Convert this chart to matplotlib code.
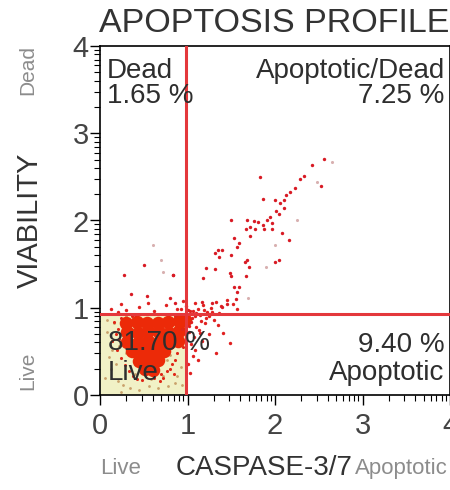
import matplotlib
matplotlib.use('Agg')
import matplotlib.pyplot as plt
import numpy as np

plt.rcParams['font.family'] = ['Liberation Sans', 'DejaVu Sans']

# gate positions
gate_x = 0.98
gate_y = 0.93

# quadrant percentages
pct_dead = '1.65 %'
pct_apdead = '7.25 %'
pct_live = '81.70 %'
pct_apop = '9.40 %'

# diagonal tail of events (apoptotic / dead)
tail_x = [2.56, 2.42, 2.33, 2.28, 1.83, 2.53, 2.23, 2.17, 2.13, 2.10, 1.86, 2.00, 2.06, 2.10,
          2.01, 2.04, 1.94, 1.91, 1.50, 1.68, 1.76, 1.81, 1.86, 1.71, 1.67, 1.77, 1.87, 1.96,
          1.97, 2.08, 1.71, 1.53, 2.16, 1.59, 1.57, 1.35, 1.39, 1.31, 1.50, 1.36, 1.68, 2.05,
          2.00, 1.66, 1.70, 1.21, 1.31, 1.49, 1.50, 1.67, 1.18, 0.83, 1.53, 1.59, 1.57, 1.28,
          1.55, 1.45, 1.39, 1.16, 0.86, 0.50, 0.27, 0.83, 0.35, 0.54, 0.80]
tail_y = [2.70, 2.64, 2.51, 2.47, 2.50, 2.39, 2.37, 2.33, 2.29, 2.24, 2.25, 2.24, 2.20, 2.14,
          2.11, 2.07, 2.04, 2.00, 2.00, 2.00, 1.99, 1.98, 1.95, 1.92, 1.90, 1.90, 1.90, 1.90,
          1.97, 1.86, 1.82, 1.80, 1.78, 1.74, 1.70, 1.66, 1.66, 1.63, 1.60, 1.58, 1.55, 1.55,
          1.52, 1.52, 1.47, 1.46, 1.44, 1.40, 1.36, 1.36, 1.34, 1.38, 1.24, 1.24, 1.18, 1.06,
          1.10, 1.04, 1.01, 1.07, 1.05, 1.49, 1.38, 1.38, 1.16, 1.13, 1.11]

# faint events
faint_x = [2.65, 2.48, 2.25, 2.00, 1.90, 0.72, 1.69, 0.60, 0.70]
faint_y = [2.67, 2.44, 2.01, 1.72, 1.47, 1.41, 1.11, 1.72, 1.55]

# events around the gate corner
near_x = [0.92, 0.98, 1.03, 1.08, 1.12, 1.18, 1.22, 1.27, 1.33, 1.38, 1.45, 1.52, 1.05, 1.15,
          1.25, 1.10, 1.20, 1.30, 1.02, 1.07, 1.13, 1.04, 1.09, 1.16, 1.24, 1.35, 1.06, 1.12,
          1.01, 1.03, 1.14, 1.41, 1.33, 1.49, 0.30, 0.45, 0.62, 0.75, 0.88, 0.20, 0.55, 0.95,
          1.00, 1.10, 1.19, 1.28, 1.36, 1.56, 1.04, 1.08, 1.02, 1.14, 1.21, 1.06, 0.12, 0.24]
near_y = [0.98, 1.02, 0.96, 1.05, 0.99, 1.03, 0.95, 1.00, 1.07, 1.02, 1.09, 1.04, 0.88, 0.85,
          0.90, 0.78, 0.82, 0.86, 0.72, 0.66, 0.74, 0.58, 0.52, 0.62, 0.70, 0.80, 0.45, 0.40,
          0.35, 0.25, 0.71, 0.71, 0.48, 0.60, 0.97, 1.01, 0.96, 1.03, 0.99, 0.95, 1.05, 1.08,
          0.97, 0.94, 0.97, 0.95, 0.94, 0.98, 0.84, 0.91, 0.79, 0.92, 0.88, 0.96, 0.98, 1.04]

# dense core of live cells
core_x = [0.30, 0.42, 0.54, 0.66, 0.78, 0.90, 0.97,
          0.31, 0.43, 0.55, 0.67, 0.79, 0.90,
          0.31, 0.43, 0.55, 0.67, 0.79, 0.89,
          0.37, 0.49, 0.61, 0.73,
          0.45, 0.56, 0.66,
          0.51, 0.61]
core_y = [0.83, 0.84, 0.82, 0.83, 0.84, 0.85, 0.86,
          0.72, 0.71, 0.73, 0.72, 0.71, 0.73,
          0.61, 0.60, 0.62, 0.61, 0.60, 0.62,
          0.50, 0.49, 0.51, 0.50,
          0.39, 0.38, 0.40,
          0.30, 0.29]

# sparse red events at the edge of the core
edge_x = [0.16, 0.20, 0.22, 0.19, 0.24, 0.18, 0.28, 0.33, 0.38, 0.42, 0.86, 0.88, 0.80, 0.84,
          0.76, 0.95, 0.72, 0.68, 0.36, 0.40, 0.86, 0.14, 0.24, 0.94, 0.62, 0.48, 0.70, 0.82]
edge_y = [0.84, 0.76, 0.64, 0.52, 0.42, 0.70, 0.34, 0.28, 0.22, 0.18, 0.40, 0.48, 0.30, 0.24,
          0.28, 0.55, 0.20, 0.16, 0.90, 0.92, 0.90, 0.62, 0.88, 0.76, 0.20, 0.17, 0.24, 0.36]

# light tan events in the live quadrant
tan_x = [0.08, 0.14, 0.10, 0.22, 0.30, 0.12, 0.18, 0.26, 0.06, 0.34, 0.44, 0.56, 0.66, 0.78,
         0.86, 0.92, 0.72, 0.58, 0.40, 0.20, 0.16, 0.28, 0.84, 0.90, 0.50, 0.62, 0.36, 0.08,
         0.24, 0.76, 0.94, 0.46, 0.30, 0.80, 0.88, 0.14]
tan_y = [0.72, 0.62, 0.44, 0.56, 0.48, 0.30, 0.36, 0.12, 0.20, 0.08, 0.06, 0.10, 0.08, 0.10,
         0.14, 0.32, 0.22, 0.18, 0.24, 0.16, 0.82, 0.66, 0.60, 0.68, 0.62, 0.52, 0.76, 0.86,
         0.04, 0.40, 0.12, 0.54, 0.90, 0.46, 0.22, 0.52]

ticks = [0, 1, 2, 3, 4]
minor = [d + np.log10(k) for d in range(4) for k in range(2, 10)]

fig = plt.figure(figsize=(4.5, 4.9), dpi=100)
ax = fig.add_axes([100 / 450, 95 / 490, 350 / 450, 349 / 490])

ax.add_patch(plt.Rectangle((0, 0), gate_x, gate_y, color='#f1f1c6', zorder=0, lw=0))

ax.scatter(tan_x, tan_y, s=4, color='#c9a06a', lw=0, zorder=1)
ax.scatter(core_x, core_y, s=95, color='#ec2a08', lw=0, zorder=2)
ax.scatter(edge_x, edge_y, s=5, color='#e02818', lw=0, zorder=2)
ax.scatter(near_x, near_y, s=6, color='#e02020', lw=0, zorder=2)
ax.scatter(tail_x, tail_y, s=6, color='#d81a24', lw=0, zorder=2)
ax.scatter(faint_x, faint_y, s=5, color='#d8b0b0', lw=0, zorder=2)

ax.axvline(gate_x, color='#e4383c', lw=2.2, zorder=3)
ax.axhline(gate_y, color='#e4383c', lw=2.2, zorder=3)

ax.set_xlim(0, 4)
ax.set_ylim(0, 4)
ax.set_xticks(ticks)
ax.set_yticks(ticks)
ax.set_xticks(minor, minor=True)
ax.set_yticks(minor, minor=True)
ax.tick_params(which='major', length=7, width=1, labelsize=21, labelcolor='#444444')
ax.tick_params(axis='x', which='major', pad=5)
ax.tick_params(axis='y', which='major', pad=1)
ax.tick_params(which='minor', length=4, width=0.8)
for s in ax.spines.values():
    s.set_linewidth(1.2)

tc = '#2e2e2e'
fs = 20
ax.text(0.08, 3.63, 'Dead', fontsize=fs, color=tc, ha='left')
ax.text(0.08, 3.35, pct_dead, fontsize=fs, color=tc, ha='left')
ax.text(3.95, 3.63, 'Apoptotic/Dead', fontsize=fs, color=tc, ha='right')
ax.text(3.94, 3.35, pct_apdead, fontsize=fs, color=tc, ha='right', zorder=4)
ax.text(0.09, 0.52, pct_live, fontsize=fs, color=tc, ha='left', zorder=4)
ax.text(0.09, 0.17, 'Live', fontsize=fs, color=tc, ha='left', zorder=4)
ax.text(3.94, 0.49, pct_apop, fontsize=fs, color=tc, ha='right')
ax.text(3.94, 0.17, 'Apoptotic', fontsize=fs, color=tc, ha='right')

fig.text(274 / 450, 1 - 32 / 490, 'APOPTOSIS PROFILE', fontsize=24.5, color='#333333',
         ha='center', va='baseline')
fig.text(30 / 450, 1 - 220 / 490, 'VIABILITY', fontsize=21, color='#333333',
         rotation=90, ha='center', va='center')
fig.text(28 / 450, 1 - 70 / 490, 'Dead', fontsize=15, color='#8c8c8c',
         rotation=90, ha='center', va='center')
fig.text(28 / 450, 1 - 371 / 490, 'Live', fontsize=15, color='#8c8c8c',
         rotation=90, ha='center', va='center')
fig.text(100 / 450, 1 - 468 / 490, 'Live', fontsize=16, color='#8c8c8c',
         ha='left', va='center')
fig.text(448 / 450, 1 - 468 / 490, 'Apoptotic', fontsize=16, color='#8c8c8c',
         ha='right', va='center')
fig.text(264 / 450, 1 - 468 / 490, 'CASPASE-3/7', fontsize=20, color='#333333',
         ha='center', va='center')

fig.savefig('out.png', dpi=100)
